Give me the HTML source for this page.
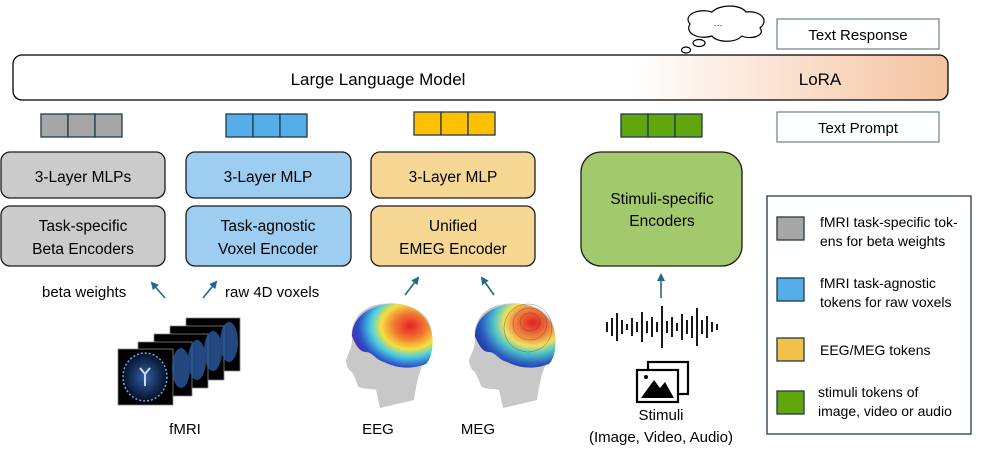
<!DOCTYPE html>
<html><head><meta charset="utf-8"><style>
body{margin:0;background:#fff}
svg{display:block;font-family:"Liberation Sans",sans-serif}
</style></head><body>
<svg width="996" height="464" viewBox="0 0 996 464" xmlns="http://www.w3.org/2000/svg">
<defs>
<linearGradient id="lora" x1="0" x2="1"><stop offset="0" stop-color="#fff"/><stop offset="0.66" stop-color="#fff"/><stop offset="1" stop-color="#f4c3a0"/></linearGradient>
<radialGradient id="brain" cx="0.5" cy="0.5" r="0.6"><stop offset="0" stop-color="#345fa8"/><stop offset="0.7" stop-color="#0c1e3f"/><stop offset="1" stop-color="#000"/></radialGradient>
<radialGradient id="eeg" cx="0.72" cy="0.35" r="0.8"><stop offset="0" stop-color="#e8202a"/><stop offset="0.25" stop-color="#f07a30"/><stop offset="0.45" stop-color="#f5e040"/><stop offset="0.6" stop-color="#4ed0e0"/><stop offset="0.8" stop-color="#2a4fc8"/><stop offset="1" stop-color="#5a1aa0"/></radialGradient>
<radialGradient id="meg" cx="0.72" cy="0.3" r="0.8"><stop offset="0" stop-color="#e02020"/><stop offset="0.3" stop-color="#f08a40"/><stop offset="0.45" stop-color="#f0e060"/><stop offset="0.6" stop-color="#50c8c8"/><stop offset="0.8" stop-color="#2c5cc0"/><stop offset="1" stop-color="#1a2a90"/></radialGradient>
<marker id="ar" markerWidth="8" markerHeight="8" refX="6" refY="4" orient="auto" markerUnits="userSpaceOnUse"><path d="M0,0 L8,4 L0,8 z" fill="#1f6a8a"/></marker>
</defs>

<!-- cloud -->
<g fill="#fff" stroke="#000" stroke-width="1.2">
<path d="M690,24 C682,14 700,8 712,12 C720,4 740,4 746,12 C760,10 770,20 760,28 C766,36 750,40 742,36 C734,44 716,42 712,36 C700,40 684,34 690,24 z"/>
<ellipse cx="699" cy="43" rx="6" ry="3.5"/>
<ellipse cx="686" cy="50" rx="4.5" ry="3"/>
</g>
<text x="718" y="28" font-size="9" text-anchor="middle">···</text>

<rect x="777" y="19" width="162" height="30" fill="#fff" stroke="#6a7f8a" stroke-width="1.2"/>
<text x="858" y="40" font-size="15" text-anchor="middle">Text Response</text>
<rect x="777" y="112" width="162" height="30" fill="#fff" stroke="#6a7f8a" stroke-width="1.2"/>
<text x="858" y="133" font-size="15" text-anchor="middle">Text Prompt</text>

<rect x="13" y="55" width="935" height="45" rx="9" fill="url(#lora)" stroke="#000" stroke-width="1.3"/>
<text x="378" y="85" font-size="17" text-anchor="middle">Large Language Model</text>
<text x="820" y="85" font-size="17" text-anchor="middle">LoRA</text>

<!-- tokens -->
<g stroke="#1e3a4a" stroke-width="1.3">
<g fill="#a6a6a6"><rect x="41" y="114" width="27" height="23"/><rect x="68" y="114" width="27" height="23"/><rect x="95" y="114" width="27" height="23"/></g>
<g fill="#56aee8"><rect x="226" y="114" width="27" height="23"/><rect x="253" y="114" width="27" height="23"/><rect x="280" y="114" width="27" height="23"/></g>
<g fill="#ffc000"><rect x="414" y="112" width="27" height="23"/><rect x="441" y="112" width="27" height="23"/><rect x="468" y="112" width="27" height="23"/></g>
<g fill="#62a60e"><rect x="621" y="114" width="27" height="23"/><rect x="648" y="114" width="27" height="23"/><rect x="675" y="114" width="27" height="23"/></g>
</g>

<!-- boxes -->
<g stroke="#1a1a1a" stroke-width="1.3">
<rect x="1" y="152" width="164" height="46" rx="9" fill="#cbcbcb"/>
<rect x="1" y="206" width="164" height="60" rx="9" fill="#cbcbcb"/>
<rect x="186" y="152" width="165" height="46" rx="9" fill="#9dcdf1"/>
<rect x="186" y="206" width="165" height="60" rx="9" fill="#9dcdf1"/>
<rect x="371" y="152" width="164" height="46" rx="9" fill="#f6d894"/>
<rect x="371" y="206" width="164" height="60" rx="9" fill="#f6d894"/>
<rect x="581" y="152" width="161" height="114" rx="20" fill="#a2c96b"/>
</g>
<g font-size="15.5" text-anchor="middle">
<text x="83" y="182">3-Layer MLPs</text>
<text x="83" y="231">Task-specific</text><text x="83" y="254">Beta Encoders</text>
<text x="268" y="182">3-Layer MLP</text>
<text x="268" y="231">Task-agnostic</text><text x="268" y="254">Voxel Encoder</text>
<text x="453" y="182">3-Layer MLP</text>
<text x="453" y="231">Unified</text><text x="453" y="254">EMEG Encoder</text>
<text x="662" y="204">Stimuli-specific</text><text x="662" y="226">Encoders</text>
</g>

<!-- arrows -->
<g stroke="#1f6a8a" stroke-width="1.6" marker-end="url(#ar)">
<line x1="165" y1="298" x2="152" y2="283"/>
<line x1="203" y1="298" x2="216" y2="282"/>
<line x1="405" y1="295" x2="418" y2="278"/>
<line x1="494" y1="295" x2="482" y2="278"/>
<line x1="661" y1="298" x2="661" y2="275"/>
</g>
<g font-size="15">
<text x="42" y="297">beta weights</text>
<text x="225" y="297">raw 4D voxels</text>
<text x="185" y="434" text-anchor="middle">fMRI</text>
<text x="378" y="434" text-anchor="middle">EEG</text>
<text x="478" y="434" text-anchor="middle">MEG</text>
<text x="661" y="420" text-anchor="middle">Stimuli</text>
<text x="661" y="442" text-anchor="middle">(Image, Video, Audio)</text>
</g>

<!-- fMRI slices -->
<g stroke="#888" stroke-width="0.8">
<rect x="186" y="318" width="54" height="53" fill="#000"/>
<rect x="170" y="326" width="54" height="54" fill="#000"/>
<rect x="154" y="334" width="54" height="54" fill="#000"/>
<rect x="138" y="342" width="54" height="54" fill="#000"/>
<rect x="118" y="349" width="55" height="56" fill="#000"/>
</g>
<g fill="#2c5aa0" opacity="0.8">
<ellipse cx="229" cy="342" rx="9" ry="20"/><ellipse cx="213" cy="351" rx="9" ry="20"/><ellipse cx="197" cy="360" rx="9" ry="20"/><ellipse cx="181" cy="368" rx="9" ry="20"/>
</g>
<ellipse cx="145" cy="377" rx="22" ry="24" fill="url(#brain)"/>
<ellipse cx="145" cy="377" rx="22" ry="24" fill="none" stroke="#6fa8e8" stroke-width="1.5" stroke-dasharray="2 2"/>
<path d="M140,368 l5,6 l5,-6 M145,374 v12" stroke="#cde" stroke-width="2" fill="none"/>

<!-- heads -->
<g>
<path d="M352,340 C350,326 356,312 372,306 C392,300 418,304 428,320 C436,336 432,356 422,366 C418,376 416,386 414,400 L380,408 L376,390 C370,388 362,390 358,386 C356,380 354,376 352,372 C348,370 346,364 346,360 C348,354 352,348 352,340 z" fill="#c8c8c8"/>
<path d="M352,336 C352,318 368,306 388,304 C410,302 428,314 432,334 C434,350 430,360 426,364 C410,370 396,368 384,362 C376,360 372,352 366,352 C360,352 356,346 352,336 z" fill="url(#eeg)"/>
<path d="M475,340 C473,326 479,312 495,306 C515,300 541,304 551,320 C559,336 555,356 545,366 C541,376 539,386 537,400 L503,408 L499,390 C493,388 485,390 481,386 C479,380 477,376 475,372 C471,370 469,364 469,360 C471,354 475,348 475,340 z" fill="#c8c8c8"/>
<path d="M475,336 C475,318 491,306 511,304 C533,302 551,314 555,334 C557,350 553,360 549,364 C533,370 519,368 507,362 C499,360 495,352 489,352 C483,352 479,346 475,336 z" fill="url(#meg)"/>
<g fill="none" stroke="#333" stroke-width="0.5" opacity="0.6"><ellipse cx="530" cy="322" rx="10" ry="9"/><ellipse cx="530" cy="324" rx="17" ry="16"/><ellipse cx="528" cy="328" rx="24" ry="24"/></g>
</g>

<!-- waveform -->
<g stroke="#000" stroke-width="1.8">
<path d="M607,322v10 M612,318v18 M617,313v28 M622,320v14 M627,324v6 M632,318v18 M637,322v10 M642,312v30 M647,321v12 M652,317v20 M657,322v10 M662,306v42 M667,321v12 M672,317v20 M677,323v8 M682,314v26 M687,320v14 M692,316v22 M697,308v38 M702,320v14 M707,316v22 M712,322v10 M717,324v6"/>
</g>
<!-- image icon -->
<g fill="none" stroke="#000" stroke-width="2.2">
<rect x="648" y="362" width="40" height="32"/>
<rect x="637" y="370" width="41" height="32" fill="#fff"/>
</g>
<path d="M641,398 L654,380 L660,388 L665,382 L674,398 z" fill="#000"/>
<circle cx="646" cy="377" r="2" fill="#000"/>

<!-- legend -->
<rect x="767" y="196" width="204" height="238" fill="#fff" stroke="#1e3a4a" stroke-width="1.3"/>
<g stroke="#1e3a4a" stroke-width="1.3">
<rect x="777" y="217" width="27" height="23" fill="#a6a6a6"/>
<rect x="777" y="278" width="27" height="23" fill="#56aee8"/>
<rect x="777" y="338" width="27" height="23" fill="#f2c14c"/>
<rect x="777" y="391" width="27" height="23" fill="#62a60e"/>
</g>
<g font-size="14">
<text x="820" y="227">fMRI task-specific tok-</text><text x="820" y="246">ens for beta weights</text>
<text x="820" y="288">fMRI task-agnostic</text><text x="820" y="307">tokens for raw voxels</text>
<text x="820" y="355">EEG/MEG tokens</text>
<text x="818" y="397">stimuli tokens of</text><text x="818" y="416">image, video or audio</text>
</g>
</svg>
</body></html>
